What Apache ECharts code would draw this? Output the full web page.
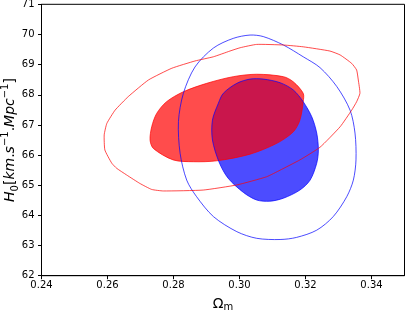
<!DOCTYPE html>
<html>
<head>
<meta charset="utf-8">
<script src="https://cdn.jsdelivr.net/npm/echarts@6/dist/echarts.min.js"></script>
<style>
html,body{margin:0;padding:0;background:#fff;}
#c{width:407px;height:310px;}
</style>
</head>
<body>
<div id="c"></div>
<script>
// Tick values
const xTicks = [0.24, 0.26, 0.28, 0.30, 0.32, 0.34];
const yTicks = [62, 63, 64, 65, 66, 67, 68, 69, 70, 71];

// Contours [Omega_m, H0]
const redInner = [
  [0.2729,66.50],[0.2734,66.94],[0.2749,67.38],[0.2779,67.77],[0.2830,68.10],
  [0.2901,68.38],[0.2981,68.60],[0.3052,68.68],[0.3133,68.60],[0.3163,68.43],
  [0.3193,68.05],[0.3193,67.77],[0.3183,67.16],[0.3163,66.77],[0.3113,66.39],
  [0.3032,66.03],[0.2931,65.81],[0.2860,65.78],[0.2799,65.84],[0.2739,66.22]
];
const redOuter = [
  [0.2590,66.67],[0.2598,67.05],[0.2623,67.49],[0.2663,67.94],[0.2724,68.49],
  [0.2795,68.88],[0.2865,69.12],[0.2921,69.26],[0.2971,69.45],[0.3002,69.56],
  [0.3052,69.67],[0.3133,69.65],[0.3193,69.59],[0.3274,69.45],[0.3305,69.32],
  [0.3340,69.04],[0.3355,68.82],[0.3360,68.49],[0.3365,68.05],[0.3355,67.77],
  [0.3340,67.49],[0.3305,66.94],[0.3244,66.26],[0.3183,65.84],[0.3123,65.50],
  [0.3082,65.28],[0.2992,65.01],[0.2890,64.84],[0.2769,64.81],[0.2734,64.86],
  [0.2698,65.06],[0.2658,65.34],[0.2628,65.56],[0.2613,65.73],[0.2592,66.17]
];
const blueInner = [
  [0.3032,68.52],[0.3072,68.52],[0.3123,68.40],[0.3163,68.16],[0.3193,67.77],
  [0.3219,67.27],[0.3234,66.73],[0.3239,66.17],[0.3234,65.73],[0.3214,65.17],
  [0.3183,64.84],[0.3133,64.57],[0.3092,64.47],[0.3052,64.51],[0.3012,64.76],
  [0.2965,65.24],[0.2938,65.77],[0.2918,66.50],[0.2918,67.16],[0.2936,67.72],
  [0.2951,68.05],[0.2992,68.38]
];
const blueOuter = [
  [0.3032,69.98],[0.3072,69.93],[0.3133,69.65],[0.3193,69.26],[0.3244,68.90],
  [0.3295,68.27],[0.3335,67.49],[0.3350,66.73],[0.3353,65.84],[0.3345,65.17],
  [0.3325,64.62],[0.3284,63.96],[0.3234,63.51],[0.3173,63.27],[0.3123,63.20],
  [0.3052,63.24],[0.2992,63.46],[0.2921,63.96],[0.2870,64.62],[0.2840,65.17],
  [0.2820,66.06],[0.2815,67.11],[0.2830,68.05],[0.2865,68.92],[0.2921,69.55],
  [0.2981,69.87]
];

function shapeSeries(pts, fill, stroke, smooth) {
  return {
    type: 'custom',
    coordinateSystem: 'cartesian2d',
    data: [pts[0]],
    silent: true,
    animation: false,
    renderItem: function (params, api) {
      const p = pts.map(function (d) { return api.coord(d); });
      return {
        type: 'polygon',
        shape: { points: p, smooth: smooth },
        style: { fill: fill, stroke: stroke, lineWidth: 1 }
      };
    }
  };
}

const chart = echarts.init(document.getElementById('c'), null, { renderer: 'canvas' });
const axisFont = 'DejaVu Sans';
chart.setOption({
  animation: false,
  backgroundColor: '#fff',
  grid: { left: 41.5, right: 2.5, top: 4.3, bottom: 34.3, containLabel: false, outerBoundsMode: 'none', show: true, borderColor: '#000', borderWidth: 1, backgroundColor: 'transparent' },
  xAxis: {
    type: 'value', min: 0.24, max: 0.35,
    splitLine: { show: false },
    axisLine: { lineStyle: { color: '#000', width: 1 } },
    axisTick: { customValues: xTicks, length: 3.5, lineStyle: { color: '#000' } },
    axisLabel: { customValues: xTicks, formatter: function (v) { return Number(v).toFixed(2); }, color: '#000', fontSize: 10, fontFamily: axisFont, margin: 5 },
    name: '{a|Ω}{b|m}',
    nameLocation: 'middle',
    nameGap: 20,
    nameMoveOverlap: false,
    nameTextStyle: {
      rich: {
        a: { fontSize: 14, fontFamily: axisFont, color: '#000', lineHeight: 18 },
        b: { fontSize: 10, fontFamily: axisFont, color: '#000', padding: [6, 0, 0, 0], lineHeight: 18 }
      }
    }
  },
  yAxis: {
    type: 'value', min: 62, max: 71, interval: 1,
    splitLine: { show: false },
    axisLine: { lineStyle: { color: '#000', width: 1 } },
    axisTick: { length: 3.5, lineStyle: { color: '#000' } },
    axisLabel: { color: '#000', fontSize: 10, fontFamily: axisFont, margin: 7 },
    name: '{i|H}{sub|0}{r|[}{i|km}{r|.}{i|s}{sup|−1}{r|.}{i|Mpc}{sup|−1}{r|]}',
    nameLocation: 'middle',
    nameGap: 21,
    nameMoveOverlap: false,
    nameTextStyle: {
      lineHeight: 20,
      rich: {
        i: { fontSize: 14, fontStyle: 'italic', fontFamily: axisFont, color: '#000', lineHeight: 20 },
        r: { fontSize: 14, fontFamily: axisFont, color: '#000', lineHeight: 20 },
        sup: { fontSize: 10, fontFamily: axisFont, color: '#000', verticalAlign: 'top', lineHeight: 12 },
        sub: { fontSize: 10, fontFamily: axisFont, color: '#000', verticalAlign: 'bottom', lineHeight: 12 }
      }
    }
  },
  series: [
    shapeSeries(blueInner, 'rgba(0,0,255,0.7)', 'transparent', 0.3),
    shapeSeries(redInner, 'rgba(255,0,0,0.7)', 'rgba(255,0,0,0.7)', 0.3),
    shapeSeries(blueInner, 'transparent', 'rgba(0,0,255,0.7)', 0.3),
    shapeSeries(blueOuter, 'transparent', 'rgba(0,0,255,0.7)', 0.3),
    shapeSeries(redOuter, 'transparent', 'rgba(255,0,0,0.7)', 0.15)
  ]
});
</script>
</body>
</html>
